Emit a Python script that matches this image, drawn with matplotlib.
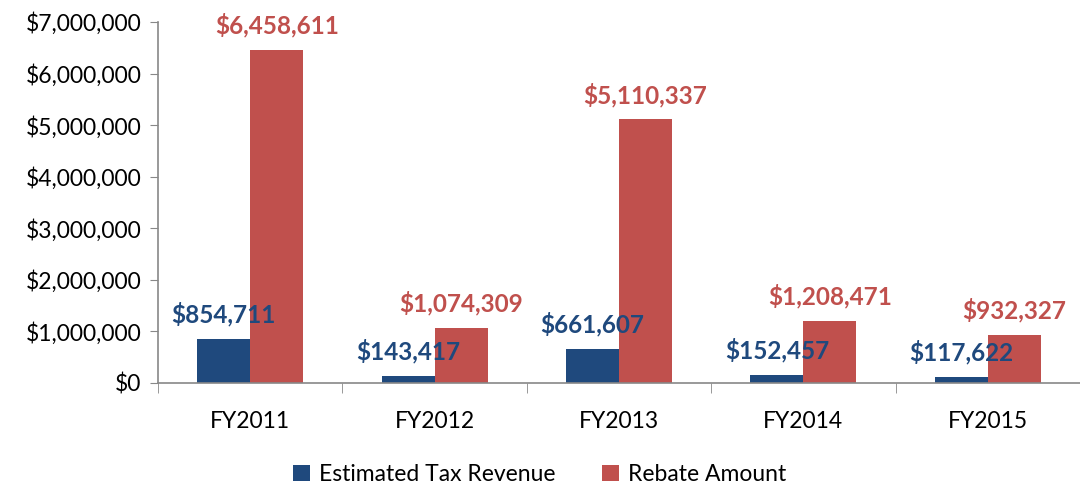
import matplotlib

matplotlib.use("Agg")
import matplotlib.pyplot as plt
import numpy as np
from matplotlib.ticker import FuncFormatter, MultipleLocator

years = ["FY2011", "FY2012", "FY2013", "FY2014", "FY2015"]
tax_revenue = [854711, 143417, 661607, 152457, 117622]
rebate_amount = [6458611, 1074309, 5110337, 1208471, 932327]

BLUE = "#1F497D"
RED = "#C0504D"

plt.rcParams["font.family"] = ["Lato", "DejaVu Sans"]

fig = plt.figure(figsize=(10.8, 4.87), dpi=100)
ax = fig.add_axes([158 / 1080, 0.2136, 922 / 1080, 0.7412])

x = np.arange(len(years))
w = 0.287
blue_bars = ax.bar(x - w / 2, tax_revenue, w, color=BLUE, label="Estimated Tax Revenue")
red_bars = ax.bar(x + w / 2, rebate_amount, w, color=RED, label="Rebate Amount")

for bars, values, color in ((blue_bars, tax_revenue, BLUE), (red_bars, rebate_amount, RED)):
    for bar, val in zip(bars, values):
        ax.annotate(f"${val:,.0f}", (bar.get_x() + bar.get_width() / 2, val),
                    xytext=(0, 9), textcoords="offset points", ha="center", va="bottom",
                    color=color, fontsize=17.5, fontweight="bold")

ax.set_xlim(-0.5, len(years) - 0.5)
ax.set_ylim(0, 7000000)
ax.yaxis.set_major_locator(MultipleLocator(1000000))
ax.yaxis.set_major_formatter(FuncFormatter(lambda v, _: f"${v:,.0f}"))
ax.set_xticks(x)
ax.set_xticklabels(years)
ax.set_xticks(np.arange(len(years) + 1) - 0.5, minor=True)
ax.tick_params(axis="x", which="major", length=0, labelsize=16.5, pad=20)
ax.tick_params(axis="x", which="minor", length=7, color="#888888", direction="out")
ax.tick_params(axis="y", length=6, color="#888888", labelsize=16.5, pad=6)

for side in ("top", "right"):
    ax.spines[side].set_visible(False)
for side in ("left", "bottom"):
    ax.spines[side].set_color("#888888")
    ax.spines[side].set_linewidth(1.2)

ax.legend(loc="lower center", bbox_to_anchor=(0.414, -0.34), ncol=2, frameon=False,
          fontsize=16.5, handlelength=0.75, handleheight=0.75, handletextpad=0.4,
          columnspacing=2.0)

fig.savefig("out.png", dpi=100)
